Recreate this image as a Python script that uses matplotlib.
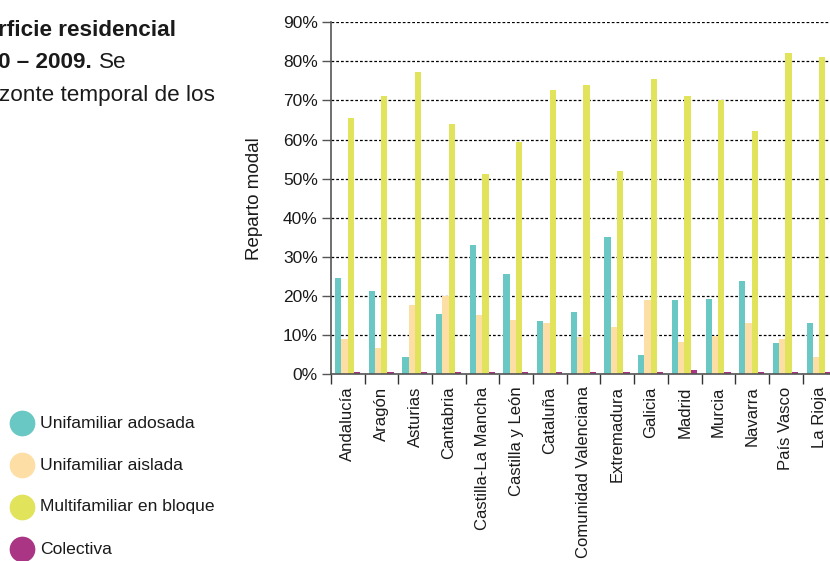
import numpy as np
import matplotlib.pyplot as plt
from matplotlib.lines import Line2D
from matplotlib.ticker import FixedLocator, PercentFormatter

plt.rcParams['font.family'] = ['Liberation Sans', 'DejaVu Sans']

regiones = ['Andalucía', 'Aragón', 'Asturias', 'Cantabria', 'Castilla-La Mancha',
            'Castilla y León', 'Cataluña', 'Comunidad Valenciana', 'Extremadura',
            'Galicia', 'Madrid', 'Murcia', 'Navarra', 'País Vasco', 'La Rioja']

series = ['Unifamiliar adosada', 'Unifamiliar aislada', 'Multifamiliar en bloque', 'Colectiva']

adosada = [24.6, 21.3, 4.4, 15.4, 33.1, 25.7, 13.6, 15.9, 35.1, 4.9, 19.0, 19.3, 23.9, 8.0, 13.1]
aislada = [9.0, 6.7, 17.7, 20.0, 15.2, 13.9, 13.1, 9.5, 12.1, 19.0, 8.3, 9.8, 13.1, 9.0, 4.4]
bloque = [65.5, 71.2, 77.3, 64.0, 51.2, 59.4, 72.7, 74.0, 52.0, 75.5, 71.2, 70.1, 62.2, 82.2, 81.1]
colectiva = [0.4, 0.4, 0.4, 0.4, 0.6, 0.4, 0.4, 0.4, 0.4, 0.4, 1.1, 0.4, 0.6, 0.6, 0.6]

colores = ['#69c8c3', '#fddfa6', '#e1e35a', '#aa3585']

fig = plt.figure(figsize=(8.3, 5.61), dpi=100)
ax = fig.add_axes([331/830, 1-374/561, (836.3-331)/830, (374-22.3)/561])

x = np.arange(len(regiones))
w = 0.186
for k, vals in enumerate([adosada, aislada, bloque, colectiva]):
    ax.bar(x + (k-1.5)*w - 0.01, vals, width=w, color=colores[k], zorder=2)

ax.set_xlim(-0.5, len(regiones)-0.5)
ax.set_ylim(0, 90)
ax.yaxis.set_major_locator(FixedLocator(np.arange(0, 91, 10)))
ax.yaxis.set_major_formatter(PercentFormatter(decimals=0))
ax.grid(axis='y', color='black', linestyle=(0, (2.2, 1.6)), linewidth=0.9, zorder=1)

ax.set_xticks(x)
ax.set_xticklabels(regiones, rotation=90, fontsize=12, color='#1a1a1a')
ax.set_xticks(np.arange(-0.5, len(regiones)), minor=True)
ax.tick_params(axis='x', which='major', length=0, pad=9)
ax.tick_params(axis='x', which='minor', length=7, width=1.0, color='#333333')
ax.tick_params(axis='y', length=6.5, width=1.0, color='#555555', labelsize=12.5,
               labelcolor='#1a1a1a', pad=3)

for s in ['top', 'right']:
    ax.spines[s].set_visible(False)
ax.spines['left'].set_color('#555555')
ax.spines['left'].set_linewidth(1.2)
ax.spines['bottom'].set_color('#555555')
ax.spines['bottom'].set_linewidth(1.2)

ax.set_ylabel('Reparto modal', fontsize=13.5, color='#1a1a1a', labelpad=14)

# texto de la izquierda (cortado en el original)
fig.text(-2/830, 1-30/561, 'rficie residencial', fontsize=16.2, fontweight='bold',
         va='center', ha='left', color='#1a1a1a')
fig.text(-2/830, 1-63/561, '0 – 2009.', fontsize=16.2, fontweight='bold',
         va='center', ha='left', color='#1a1a1a')
fig.text(99/830, 1-63/561, 'Se', fontsize=16.2, va='center', ha='left', color='#1a1a1a')
fig.text(-1/830, 1-96/561, 'zonte temporal de los', fontsize=16.2, va='center',
         ha='left', color='#1a1a1a')

# leyenda
for k, nombre in enumerate(series):
    yy = 1 - (423 + k*42)/561
    fig.add_artist(Line2D([22/830], [yy], marker='o', markersize=17.5, color=colores[k],
                          linestyle='none', transform=fig.transFigure))
    fig.text(40/830, yy, nombre, fontsize=12.6, va='center', ha='left', color='#1a1a1a')

plt.savefig('out.png', dpi=100)
